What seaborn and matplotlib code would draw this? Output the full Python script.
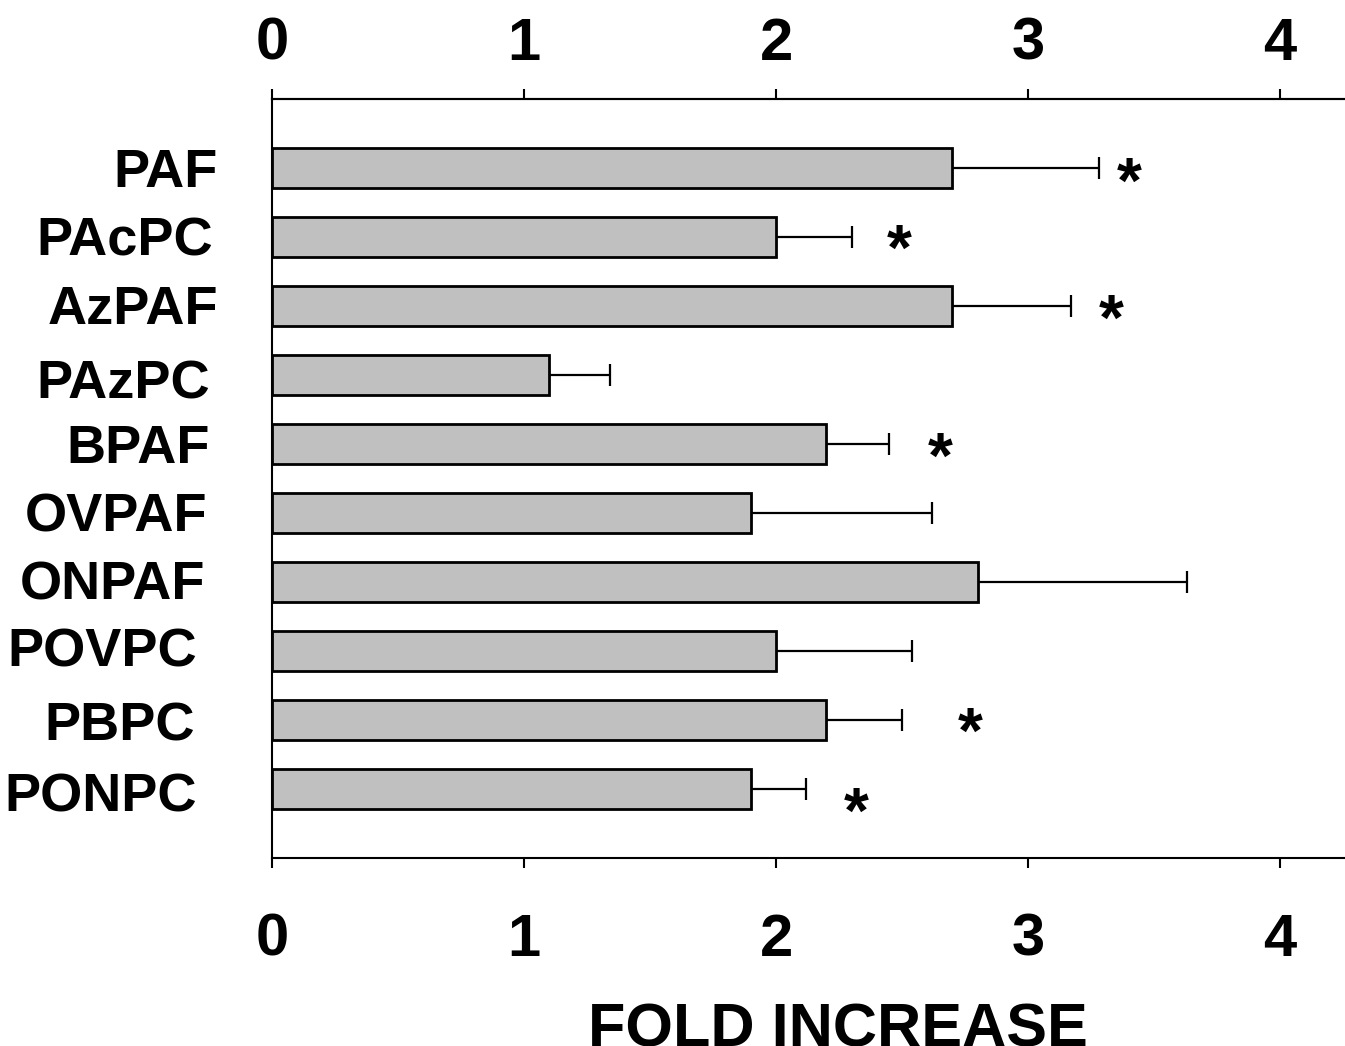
import numpy as np
import pandas as pd
import matplotlib
matplotlib.use("Agg")
import matplotlib.pyplot as plt
import matplotlib.transforms as mtransforms
import seaborn as sns

# ---- data ----
categories = ["PAF", "PAcPC", "AzPAF", "PAzPC", "BPAF", "OVPAF", "ONPAF", "POVPC", "PBPC", "PONPC"]
fold_increase = [2.70, 2.00, 2.70, 1.10, 2.20, 1.90, 2.80, 2.00, 2.20, 1.90]
error_upper = [0.58, 0.30, 0.47, 0.24, 0.25, 0.72, 0.83, 0.54, 0.30, 0.22]
star_categories = ["PAF", "PAcPC", "AzPAF", "BPAF", "PBPC", "PONPC"]
star_x = [3.40, 2.49, 3.33, 2.65, 2.77, 2.32]
x_ticks = [0, 1, 2, 3, 4]
x_label = "FOLD INCREASE"

# layout tweaks (pixels) for the hand-placed category labels
label_dx = [-54, -59, -54, -62, -62, -65, -67, -75, -77, -75]
label_dy = [5, 5, 4, 10, 5, 5, 4, 2, 7, 9]
star_dy_px = [4, 2, 3, 3, 2, 13]

sns.set_theme(style="white")
plt.rcParams["font.family"] = ["Liberation Sans", "DejaVu Sans"]
plt.rcParams["font.weight"] = "bold"
plt.rcParams["text.color"] = "black"
plt.rcParams["axes.labelcolor"] = "black"

W, H = 1345, 1046
fig = plt.figure(figsize=(W / 100, H / 100), dpi=100)
ax_left, ax_bottom = 272 / W, (H - 858) / H
x_max = 4.3
ax_w = x_max * 252 / W
ax_h = (858 - 99) / H
ax = fig.add_axes([ax_left, ax_bottom, ax_w, ax_h])

df = pd.DataFrame({"category": categories, "value": fold_increase})
sns.barplot(data=df, x="value", y="category", orient="h", color="#c0c0c0",
            saturation=1, edgecolor="black", linewidth=2.0, width=0.58, ax=ax, zorder=2)

pos = np.arange(len(categories))
ax.errorbar(fold_increase, pos, xerr=[np.zeros(len(pos)), error_upper], fmt="none",
            ecolor="black", elinewidth=1.6, capsize=8, capthick=1.6, zorder=1)

ax.set_xlim(0, x_max)
ax.set_ylim(len(categories), -1.0)

# bottom axis
ax.set_xticks(x_ticks)
ax.set_xticklabels([str(t) for t in x_ticks], fontweight="bold")
ax.tick_params(axis="x", which="both", top=False, bottom=True, labeltop=False, labelbottom=True,
               direction="out", length=7.5, width=1.5, colors="black", labelsize=43, pad=32)

# top axis
sec = ax.secondary_xaxis("top")
sec.set_xticks(x_ticks)
sec.set_xticklabels([str(t) for t in x_ticks], fontweight="bold")
sec.tick_params(axis="x", direction="out", length=7.5, width=1.5, colors="black", labelsize=43, pad=12)
sec.spines["top"].set_linewidth(1.5)
sec.spines["top"].set_color("black")

ax.set_yticks(pos)
ax.set_yticklabels([])
ax.tick_params(axis="y", left=False, right=False)
ax.set_ylabel("")

# category labels
for i, (c, dx, dy) in enumerate(zip(categories, label_dx, label_dy)):
    tr = ax.get_yaxis_transform() + mtransforms.ScaledTranslation(dx / 100, -dy / 100, fig.dpi_scale_trans)
    ax.text(0, i, c, transform=tr, ha="right", va="center", fontsize=39,
            fontweight="bold", color="black")

# significance stars
for c, sx, sdy in zip(star_categories, star_x, star_dy_px):
    i = categories.index(c)
    tr = ax.transData + mtransforms.ScaledTranslation(0, -(sdy + 31) / 100, fig.dpi_scale_trans)
    ax.text(sx, i, "*", transform=tr, ha="center", va="baseline", fontsize=46,
            fontweight="bold", color="black")

for s in ["left", "top", "bottom"]:
    ax.spines[s].set_visible(True)
    ax.spines[s].set_color("black")
    ax.spines[s].set_linewidth(1.5)
ax.spines["right"].set_visible(False)

ax.set_xlabel(x_label, fontsize=44, fontweight="bold", va="baseline", color="black")
ax.xaxis.set_label_coords(0.522, -0.2477)

fig.savefig("out.png", dpi=100)
